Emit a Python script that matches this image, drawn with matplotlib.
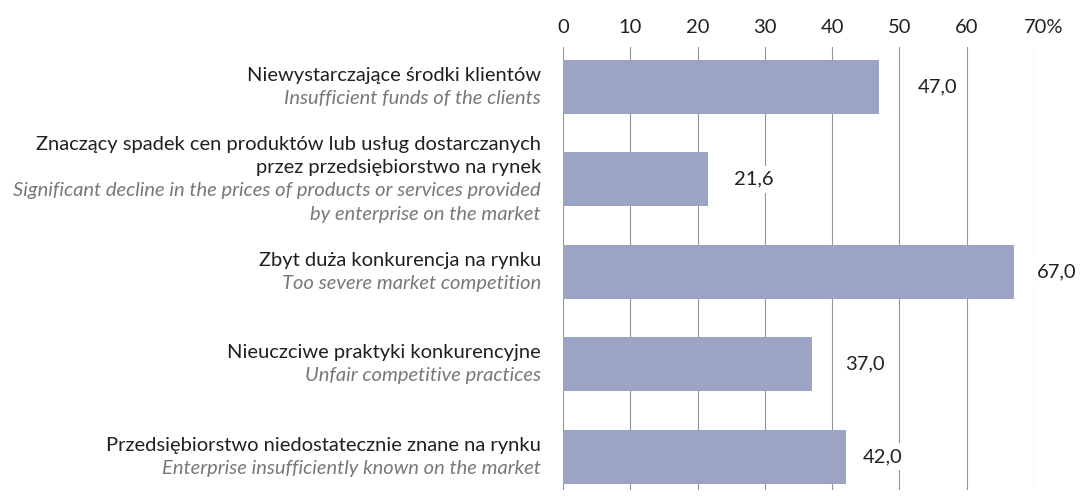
import matplotlib.pyplot as plt
from matplotlib.transforms import offset_copy

plt.rcParams['font.family'] = ['Lato', 'DejaVu Sans']

# data
labels_pl = [
    "Niewystarczające środki klientów",
    "Znaczący spadek cen produktów lub usług dostarczanych\nprzez przedsiębiorstwo na rynek",
    "Zbyt duża konkurencja na rynku",
    "Nieuczciwe praktyki konkurencyjne",
    "Przedsiębiorstwo niedostatecznie znane na rynku",
]
labels_en = [
    "Insufficient funds of the clients",
    "Significant decline in the prices of products or services provided\nby enterprise on the market",
    "Too severe market competition",
    "Unfair competitive practices",
    "Enterprise insufficiently known on the market",
]
values = [47.0, 21.6, 67.0, 37.0, 42.0]
ticks = [0, 10, 20, 30, 40, 50, 60, 70]
tick_labels = ["0", "10", "20", "30", "40", "50", "60", "70%"]

# label gap after bar end, in pixels (hand placed in the original)
label_pad = [39, 26, 23, 33, 17]

fs = 14.5
fig = plt.figure(figsize=(10.88, 4.97), dpi=100)
ax = fig.add_axes([563 / 1088, 7 / 497, (1034 - 563) / 1088, (490 - 47) / 497])

bar_color = "#9ca4c6"
ypos = list(range(len(values)))
ax.barh(ypos, values, height=0.58, color=bar_color, zorder=2)

ax.set_xlim(0, 70)
ax.set_ylim(4.36, -0.43)

for t in ticks:
    ax.axvline(t, color="#959595", lw=0.8, zorder=1)

ax.xaxis.tick_top()
ax.set_xticks(ticks)
ax.set_xticklabels(tick_labels, fontsize=fs, color="#231f20")
ax.tick_params(axis="x", length=0, pad=8)
# keep the number centred on the line, let the % sign hang to the right
last = ax.get_xticklabels()[-1]
last.set_ha("left")
last.set_transform(offset_copy(last.get_transform(), fig=fig, x=-10, y=0, units="dots"))
ax.set_yticks([])
for s in ax.spines.values():
    s.set_visible(False)

for i, v in enumerate(values):
    ax.annotate(f"{v:.1f}".replace(".", ","), xy=(v, i),
                xytext=(label_pad[i] * 0.72, 0), textcoords="offset points",
                ha="left", va="center", fontsize=fs, color="#231f20", zorder=3,
                bbox=dict(boxstyle="square,pad=0.25", fc="white", ec="none"))

# two-language category labels, one text per line
line_h = 0.252
for i in range(len(values)):
    lines = [(s, "#231f20", "normal") for s in labels_pl[i].split("\n")]
    lines += [(s, "#77787b", "italic") for s in labels_en[i].split("\n")]
    n = len(lines)
    for k, (s, c, st) in enumerate(lines):
        y = i + (k - (n - 1) / 2) * line_h
        ax.text(-0.047, y, s, transform=ax.get_yaxis_transform(),
                ha="right", va="center", fontsize=fs, color=c, style=st)

fig.savefig("out.png", dpi=100)
